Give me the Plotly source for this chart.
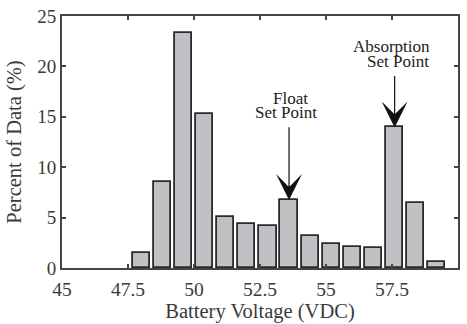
import plotly.graph_objects as go

# Histogram of battery voltage readings (bin centres in VDC, share of samples in %)
bin_centers = [48.0, 48.8, 49.6, 50.4, 51.2, 52.0, 52.8, 53.6, 54.4, 55.2, 56.0, 56.8, 57.6, 58.4, 59.2]
percent_of_data = [1.5, 8.5, 23.3, 15.3, 5.1, 4.35, 4.15, 6.75, 3.2, 2.35, 2.05, 2.0, 13.95, 6.45, 0.55]

x_ticks = [45, 47.5, 50, 52.5, 55, 57.5, 60]
x_tick_text = ["45", "47.5", "50", "52.5", "55", "57.5", "60"]
y_ticks = [0, 5, 10, 15, 20, 25]

float_set_point = 53.6
absorption_set_point = 57.6

FONT = "Liberation Serif"
TEXT = "#3a3a3a"
AXIS = "#444444"

fig = go.Figure()
fig.add_trace(go.Bar(
    x=bin_centers,
    y=percent_of_data,
    width=0.65,
    marker=dict(color="#c0c1c5", line=dict(color="#2a2a2a", width=1.8)),
    hoverinfo="x+y",
))

def bar_height(center):
    return percent_of_data[bin_centers.index(center)]

# Arrows pointing at the two charger set points
for xc, tail in [(float_set_point, 14.1), (absorption_set_point, 19.2)]:
    fig.add_annotation(
        x=xc, y=bar_height(xc), ax=xc, ay=tail,
        xref="x", yref="y", axref="x", ayref="y",
        showarrow=True, arrowhead=3, arrowsize=3.6, arrowwidth=1.2,
        arrowcolor="#111111", standoff=0, text="",
    )

labels = [
    ("Float", 53.66, 16.8),
    ("Set Point", 53.5, 15.4),
    ("Absorption", 57.48, 21.95),
    ("Set Point", 57.74, 20.45),
]
for txt, xa, ya in labels:
    fig.add_annotation(
        x=xa, y=ya, xref="x", yref="y", text=txt, showarrow=False,
        xanchor="center", yanchor="middle", borderpad=0,
        font=dict(family=FONT, size=17, color="#222222"),
    )

fig.update_layout(
    width=467, height=324,
    margin=dict(l=62, r=9, t=16, b=56),
    paper_bgcolor="white", plot_bgcolor="white",
    showlegend=False, bargap=0,
    font=dict(family=FONT, size=19, color=TEXT),
)
fig.update_xaxes(
    range=[45, 60], tickvals=x_ticks, ticktext=x_tick_text,
    ticks="inside", ticklen=4, tickwidth=1.5, tickcolor=AXIS,
    showline=True, linecolor=AXIS, linewidth=2, mirror="ticks",
    showgrid=False, zeroline=False, ticklabelstandoff=3, automargin=False,
    tickfont=dict(family=FONT, size=19.5, color=TEXT),
    title=dict(text="Battery Voltage (VDC)", font=dict(family=FONT, size=20.5, color=TEXT), standoff=2),
)
fig.update_yaxes(
    range=[0, 25], tickvals=y_ticks,
    ticks="inside", ticklen=4, tickwidth=1.5, tickcolor=AXIS,
    showline=True, linecolor=AXIS, linewidth=2, mirror="ticks",
    showgrid=False, zeroline=False, automargin=False,
    tickfont=dict(family=FONT, size=19, color=TEXT),
    title=dict(text="Percent of Data (%)", font=dict(family=FONT, size=20.5, color=TEXT), standoff=10),
)

fig.write_html("out.html")
